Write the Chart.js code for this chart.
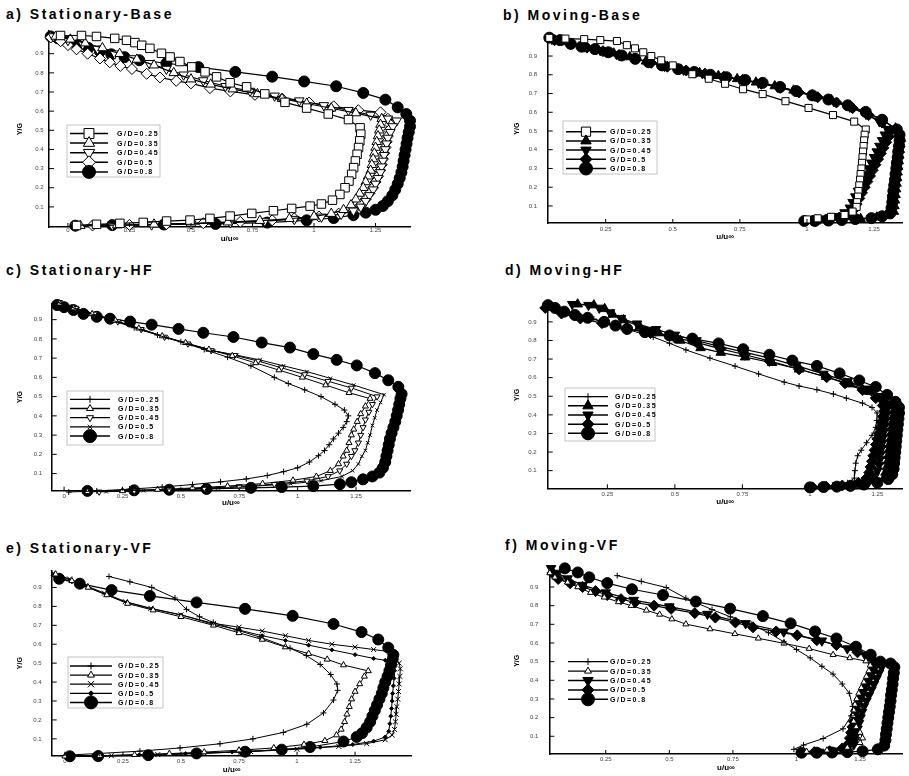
<!DOCTYPE html>
<html>
<head>
<meta charset="utf-8">
<script src="https://cdn.jsdelivr.net/npm/chart.js@4/dist/chart.umd.min.js"></script>
<style>
    html, body { margin: 0; padding: 0; background: #fff; }
    body { width: 909px; height: 776px; position: relative; overflow: hidden; font-family: "Liberation Sans", Arial, sans-serif; }
    canvas { position: absolute; }
    .ttl { position: absolute; font-weight: bold; font-size: 14px; letter-spacing: 2.5px; line-height: 16px; color: #000; white-space: nowrap; }
</style>
</head>
<body>
<div class="ttl" style="left:6px;top:6px">a) Stationary-Base</div>
<div class="ttl" style="left:503px;top:7px">b) Moving-Base</div>
<div class="ttl" style="left:6px;top:262px">c) Stationary-HF</div>
<div class="ttl" style="left:505px;top:262px">d) Moving-HF</div>
<div class="ttl" style="left:6px;top:540px">e) Stationary-VF</div>
<div class="ttl" style="left:505px;top:537px">f) Moving-VF</div>
<canvas id="pa"></canvas>
<canvas id="pb"></canvas>
<canvas id="pc"></canvas>
<canvas id="pd"></canvas>
<canvas id="pe"></canvas>
<canvas id="pf"></canvas>
<script>
// series labels and axis ticks
const gdLabels = ['G/D=0.25', 'G/D=0.35', 'G/D=0.45', 'G/D=0.5', 'G/D=0.8'];
const xTicksVals = [0, 0.25, 0.5, 0.75, 1, 1.25];
const yTicksVals = [0.1, 0.2, 0.3, 0.4, 0.5, 0.6, 0.7, 0.8, 0.9];

// profiles as [u/u, Y/G] pairs
// a) Stationary-Base
const aGD025 = [[-0.03,0.995],[0.055,0.995],[0.116,0.99],[0.19,0.98],[0.238,0.97],[0.272,0.958],[0.3,0.944],[0.333,0.928],[0.38,0.902],[0.415,0.883],[0.455,0.859],[0.503,0.831],[0.557,0.805],[0.604,0.779],[0.659,0.748],[0.726,0.727],[0.8,0.69],[0.882,0.646],[0.97,0.616],[1.058,0.585],[1.14,0.556],[1.187,0.513],[1.19,0.48],[1.186,0.445],[1.181,0.41],[1.175,0.375],[1.168,0.34],[1.161,0.305],[1.153,0.27],[1.142,0.235],[1.126,0.2],[1.105,0.165],[1.075,0.135],[1.03,0.115],[0.984,0.104],[0.909,0.092],[0.835,0.08],[0.747,0.066],[0.659,0.052],[0.577,0.04],[0.496,0.031],[0.401,0.026],[0.306,0.019],[0.211,0.014],[0.116,0.009],[0.035,0.003]];
const aGD035 = [[-0.05,0.99],[0.01,0.975],[0.07,0.955],[0.14,0.93],[0.21,0.9],[0.28,0.87],[0.35,0.84],[0.43,0.8],[0.5,0.767],[0.58,0.74],[0.67,0.715],[0.77,0.69],[0.87,0.665],[0.97,0.64],[1.07,0.615],[1.17,0.59],[1.275,0.56],[1.27,0.53],[1.265,0.5],[1.26,0.47],[1.255,0.44],[1.25,0.41],[1.245,0.38],[1.24,0.35],[1.235,0.32],[1.23,0.29],[1.22,0.26],[1.21,0.23],[1.2,0.2],[1.185,0.17],[1.17,0.14],[1.15,0.11],[1.12,0.085],[1.07,0.065],[1.0,0.05],[0.9,0.038],[0.78,0.028],[0.65,0.02],[0.5,0.014],[0.35,0.009],[0.2,0.005],[0.05,0.002]];
const aGD045 = [[-0.06,0.99],[0.0,0.97],[0.06,0.95],[0.12,0.925],[0.19,0.9],[0.26,0.875],[0.33,0.85],[0.4,0.82],[0.47,0.79],[0.55,0.76],[0.64,0.73],[0.74,0.705],[0.84,0.68],[0.94,0.655],[1.04,0.63],[1.14,0.605],[1.23,0.58],[1.3,0.56],[1.336,0.55],[1.32,0.52],[1.31,0.49],[1.3,0.46],[1.295,0.43],[1.29,0.4],[1.285,0.37],[1.28,0.34],[1.275,0.31],[1.27,0.28],[1.26,0.25],[1.25,0.22],[1.24,0.19],[1.225,0.16],[1.21,0.13],[1.19,0.1],[1.16,0.08],[1.11,0.062],[1.03,0.048],[0.92,0.036],[0.8,0.026],[0.66,0.018],[0.5,0.012],[0.34,0.007],[0.18,0.004],[0.03,0.001]];
const aGD050 = [[-0.07,0.985],[-0.03,0.965],[0.0,0.945],[0.035,0.923],[0.08,0.9],[0.13,0.875],[0.17,0.855],[0.213,0.836],[0.26,0.82],[0.32,0.795],[0.374,0.776],[0.44,0.758],[0.5,0.745],[0.577,0.72],[0.66,0.703],[0.76,0.685],[0.87,0.665],[0.98,0.645],[1.08,0.625],[1.18,0.605],[1.27,0.594],[1.3,0.56],[1.31,0.53],[1.305,0.5],[1.3,0.47],[1.295,0.44],[1.29,0.41],[1.285,0.38],[1.28,0.35],[1.275,0.32],[1.268,0.29],[1.26,0.26],[1.25,0.23],[1.24,0.2],[1.225,0.17],[1.21,0.14],[1.19,0.11],[1.16,0.085],[1.1,0.065],[1.02,0.05],[0.92,0.04],[0.83,0.03],[0.7,0.022],[0.55,0.015],[0.4,0.01],[0.25,0.006],[0.1,0.003]];
const aGD080 = [[-0.07,0.99],[-0.04,0.98],[0.0,0.965],[0.04,0.945],[0.083,0.93],[0.13,0.912],[0.176,0.897],[0.23,0.882],[0.29,0.866],[0.4,0.85],[0.53,0.83],[0.68,0.805],[0.83,0.78],[0.96,0.755],[1.09,0.73],[1.2,0.695],[1.29,0.66],[1.34,0.62],[1.375,0.585],[1.39,0.55],[1.39,0.52],[1.385,0.49],[1.38,0.46],[1.376,0.43],[1.372,0.4],[1.368,0.37],[1.364,0.34],[1.36,0.31],[1.355,0.28],[1.348,0.25],[1.34,0.22],[1.33,0.19],[1.318,0.16],[1.3,0.13],[1.28,0.105],[1.25,0.085],[1.21,0.07],[1.16,0.057],[1.08,0.042],[0.97,0.03],[0.81,0.018],[0.6,0.011],[0.39,0.008],[0.18,0.005],[0.03,0.002]];

// b) Moving-Base
const bGD025 = [[0.04,0.997],[0.1,0.993],[0.17,0.99],[0.23,0.985],[0.292,0.98],[0.329,0.958],[0.359,0.941],[0.39,0.92],[0.42,0.9],[0.457,0.877],[0.5,0.85],[0.573,0.803],[0.634,0.779],[0.695,0.752],[0.762,0.723],[0.835,0.697],[0.92,0.659],[1.006,0.623],[1.097,0.585],[1.176,0.55],[1.219,0.508],[1.215,0.48],[1.213,0.45],[1.211,0.42],[1.209,0.39],[1.207,0.36],[1.205,0.33],[1.203,0.3],[1.2,0.27],[1.198,0.24],[1.195,0.21],[1.192,0.18],[1.19,0.15],[1.187,0.12],[1.185,0.095],[1.17,0.07],[1.14,0.052],[1.09,0.042],[1.04,0.034],[1.0,0.028]];
const bGD035 = [[0.04,0.995],[0.1,0.975],[0.16,0.955],[0.22,0.935],[0.28,0.915],[0.34,0.895],[0.4,0.872],[0.46,0.85],[0.53,0.828],[0.6,0.81],[0.67,0.795],[0.74,0.778],[0.81,0.76],[0.88,0.74],[0.95,0.717],[1.02,0.692],[1.09,0.665],[1.16,0.633],[1.22,0.6],[1.28,0.558],[1.33,0.515],[1.345,0.49],[1.35,0.46],[1.348,0.43],[1.346,0.4],[1.344,0.37],[1.342,0.34],[1.34,0.31],[1.338,0.28],[1.336,0.25],[1.334,0.22],[1.332,0.19],[1.33,0.16],[1.328,0.13],[1.326,0.1],[1.324,0.07],[1.3,0.05],[1.26,0.04],[1.2,0.032]];
const bGD045 = [[0.05,0.99],[0.11,0.97],[0.17,0.95],[0.23,0.93],[0.29,0.91],[0.35,0.89],[0.41,0.868],[0.47,0.846],[0.54,0.826],[0.61,0.808],[0.68,0.792],[0.75,0.775],[0.82,0.756],[0.89,0.735],[0.96,0.712],[1.03,0.686],[1.1,0.658],[1.16,0.628],[1.22,0.59],[1.27,0.55],[1.3,0.51],[1.29,0.48],[1.28,0.45],[1.27,0.42],[1.26,0.39],[1.25,0.36],[1.24,0.33],[1.23,0.3],[1.22,0.27],[1.21,0.24],[1.2,0.21],[1.19,0.18],[1.18,0.15],[1.17,0.12],[1.16,0.09],[1.14,0.065],[1.1,0.045],[1.05,0.032],[1.0,0.025]];
const bGD050 = [[0.06,0.985],[0.12,0.965],[0.18,0.945],[0.24,0.926],[0.3,0.906],[0.36,0.886],[0.42,0.864],[0.48,0.843],[0.55,0.823],[0.62,0.806],[0.69,0.79],[0.76,0.772],[0.83,0.752],[0.9,0.73],[0.97,0.706],[1.04,0.68],[1.11,0.652],[1.17,0.622],[1.23,0.585],[1.28,0.545],[1.31,0.5],[1.305,0.47],[1.295,0.44],[1.285,0.41],[1.275,0.38],[1.265,0.35],[1.255,0.32],[1.245,0.29],[1.235,0.26],[1.225,0.23],[1.215,0.2],[1.205,0.17],[1.195,0.14],[1.185,0.11],[1.175,0.08],[1.16,0.055],[1.12,0.038],[1.07,0.028],[1.02,0.022]];
const bGD080 = [[0.04,0.998],[0.08,0.985],[0.12,0.965],[0.16,0.95],[0.21,0.937],[0.26,0.92],[0.31,0.903],[0.36,0.885],[0.41,0.867],[0.46,0.85],[0.52,0.83],[0.58,0.815],[0.64,0.8],[0.7,0.787],[0.77,0.772],[0.835,0.757],[0.9,0.735],[0.96,0.713],[1.02,0.69],[1.08,0.668],[1.152,0.637],[1.219,0.602],[1.28,0.56],[1.335,0.508],[1.345,0.48],[1.345,0.45],[1.343,0.42],[1.34,0.39],[1.338,0.36],[1.335,0.33],[1.333,0.3],[1.33,0.27],[1.328,0.24],[1.325,0.21],[1.322,0.18],[1.32,0.15],[1.318,0.12],[1.315,0.09],[1.31,0.06],[1.28,0.045],[1.24,0.035],[1.18,0.03],[1.13,0.025],[1.08,0.022],[1.03,0.02],[0.99,0.02]];

// c) Stationary-HF
const cGD025 = [[-0.03,0.99],[0.03,0.965],[0.1,0.935],[0.2,0.9],[0.3,0.858],[0.4,0.82],[0.5,0.785],[0.6,0.745],[0.7,0.705],[0.8,0.66],[0.9,0.6],[0.96,0.568],[1.03,0.535],[1.1,0.5],[1.16,0.46],[1.2,0.43],[1.217,0.4],[1.21,0.37],[1.195,0.34],[1.175,0.31],[1.153,0.28],[1.135,0.25],[1.115,0.22],[1.089,0.193],[1.05,0.16],[1.0,0.13],[0.94,0.11],[0.87,0.09],[0.78,0.072],[0.67,0.057],[0.55,0.043],[0.42,0.03],[0.28,0.019],[0.14,0.01],[0.02,0.004]];
const cGD035 = [[-0.02,0.985],[0.04,0.96],[0.12,0.93],[0.22,0.895],[0.32,0.855],[0.42,0.815],[0.52,0.78],[0.62,0.745],[0.72,0.712],[0.82,0.675],[0.92,0.638],[1.02,0.6],[1.12,0.56],[1.22,0.52],[1.31,0.49],[1.29,0.45],[1.27,0.41],[1.255,0.37],[1.24,0.33],[1.23,0.3],[1.22,0.26],[1.21,0.22],[1.195,0.19],[1.175,0.15],[1.14,0.115],[1.08,0.085],[0.98,0.065],[0.85,0.048],[0.7,0.035],[0.55,0.025],[0.4,0.017],[0.25,0.01],[0.1,0.005]];
const cGD045 = [[-0.02,0.99],[0.05,0.96],[0.13,0.93],[0.23,0.89],[0.33,0.85],[0.43,0.81],[0.53,0.775],[0.63,0.74],[0.73,0.715],[0.83,0.685],[0.93,0.65],[1.03,0.615],[1.13,0.58],[1.23,0.545],[1.34,0.5],[1.32,0.46],[1.305,0.42],[1.29,0.38],[1.28,0.34],[1.27,0.3],[1.26,0.26],[1.245,0.22],[1.23,0.19],[1.21,0.15],[1.18,0.115],[1.13,0.085],[1.04,0.062],[0.9,0.045],[0.75,0.033],[0.6,0.024],[0.45,0.016],[0.3,0.01],[0.15,0.005]];
const cGD050 = [[-0.02,0.98],[0.06,0.955],[0.14,0.925],[0.24,0.885],[0.34,0.845],[0.44,0.805],[0.54,0.77],[0.64,0.738],[0.74,0.715],[0.84,0.69],[0.94,0.66],[1.04,0.63],[1.14,0.595],[1.24,0.56],[1.37,0.51],[1.355,0.47],[1.34,0.43],[1.33,0.39],[1.32,0.35],[1.31,0.3],[1.3,0.26],[1.29,0.22],[1.275,0.19],[1.26,0.15],[1.235,0.115],[1.19,0.085],[1.1,0.063],[0.97,0.047],[0.82,0.035],[0.66,0.025],[0.5,0.017],[0.34,0.011],[0.18,0.006]];
const cGD080 = [[-0.03,0.976],[0.0,0.965],[0.04,0.95],[0.083,0.93],[0.14,0.915],[0.197,0.905],[0.283,0.89],[0.375,0.874],[0.49,0.852],[0.596,0.832],[0.725,0.81],[0.846,0.781],[0.967,0.755],[1.067,0.721],[1.167,0.691],[1.253,0.662],[1.331,0.622],[1.388,0.585],[1.431,0.551],[1.445,0.514],[1.44,0.49],[1.435,0.46],[1.43,0.43],[1.424,0.4],[1.418,0.37],[1.41,0.34],[1.402,0.31],[1.395,0.28],[1.39,0.25],[1.385,0.22],[1.38,0.19],[1.375,0.16],[1.365,0.13],[1.35,0.105],[1.32,0.085],[1.28,0.07],[1.23,0.055],[1.181,0.045],[1.067,0.035],[0.932,0.03],[0.8,0.026],[0.61,0.02],[0.45,0.016],[0.3,0.013],[0.1,0.01]];

// d) Moving-HF
const dGD025 = [[0.01,1.0],[0.056,0.975],[0.12,0.95],[0.2,0.915],[0.3,0.87],[0.42,0.818],[0.48,0.785],[0.541,0.749],[0.63,0.705],[0.723,0.662],[0.81,0.62],[0.905,0.576],[0.96,0.555],[1.026,0.535],[1.087,0.512],[1.135,0.49],[1.195,0.463],[1.23,0.44],[1.249,0.41],[1.248,0.37],[1.244,0.333],[1.23,0.29],[1.21,0.25],[1.19,0.21],[1.177,0.18],[1.17,0.14],[1.167,0.1],[1.165,0.06],[1.14,0.035],[1.1,0.022],[1.05,0.015],[1.0,0.01]];
const dGD035 = [[0.14,0.995],[0.2,0.99],[0.24,0.97],[0.27,0.94],[0.31,0.91],[0.37,0.875],[0.44,0.84],[0.52,0.8],[0.595,0.76],[0.67,0.735],[0.76,0.71],[0.86,0.68],[0.96,0.645],[1.06,0.605],[1.15,0.565],[1.22,0.525],[1.27,0.485],[1.3,0.45],[1.31,0.42],[1.308,0.39],[1.305,0.36],[1.302,0.33],[1.3,0.3],[1.298,0.27],[1.295,0.24],[1.292,0.21],[1.29,0.18],[1.288,0.15],[1.285,0.12],[1.28,0.09],[1.275,0.06],[1.25,0.04],[1.2,0.028]];
const dGD045 = [[0.12,0.995],[0.18,0.99],[0.22,0.975],[0.26,0.95],[0.3,0.92],[0.36,0.89],[0.43,0.86],[0.5,0.83],[0.58,0.8],[0.66,0.77],[0.75,0.74],[0.85,0.705],[0.95,0.665],[1.05,0.62],[1.14,0.58],[1.21,0.54],[1.26,0.5],[1.28,0.46],[1.285,0.43],[1.283,0.4],[1.28,0.37],[1.277,0.34],[1.274,0.31],[1.271,0.28],[1.268,0.25],[1.265,0.22],[1.262,0.19],[1.259,0.16],[1.256,0.13],[1.25,0.1],[1.24,0.07],[1.22,0.045],[1.17,0.03],[1.1,0.02]];
const dGD050 = [[0.02,0.975],[0.08,0.945],[0.15,0.918],[0.23,0.893],[0.32,0.865],[0.41,0.84],[0.5,0.815],[0.58,0.79],[0.67,0.755],[0.759,0.723],[0.85,0.69],[0.96,0.645],[1.062,0.602],[1.13,0.57],[1.195,0.533],[1.244,0.49],[1.27,0.45],[1.275,0.42],[1.27,0.39],[1.265,0.36],[1.26,0.33],[1.255,0.3],[1.25,0.27],[1.245,0.24],[1.24,0.21],[1.235,0.18],[1.23,0.15],[1.225,0.12],[1.22,0.09],[1.21,0.06],[1.18,0.035],[1.12,0.02],[1.06,0.014],[1.01,0.01]];
const dGD080 = [[0.03,0.99],[0.056,0.975],[0.09,0.955],[0.13,0.937],[0.177,0.922],[0.238,0.9],[0.28,0.88],[0.323,0.862],[0.389,0.845],[0.48,0.827],[0.565,0.81],[0.662,0.784],[0.753,0.753],[0.85,0.723],[0.935,0.692],[1.026,0.663],[1.11,0.623],[1.183,0.585],[1.244,0.55],[1.286,0.507],[1.317,0.47],[1.33,0.44],[1.33,0.41],[1.328,0.38],[1.326,0.35],[1.324,0.32],[1.322,0.29],[1.32,0.26],[1.318,0.23],[1.316,0.2],[1.314,0.17],[1.312,0.14],[1.31,0.11],[1.305,0.08],[1.29,0.055],[1.25,0.035],[1.2,0.025],[1.15,0.018],[1.1,0.014],[1.05,0.012],[1.0,0.01]];

// e) Stationary-VF
const eGD025 = [[0.19,0.958],[0.28,0.93],[0.374,0.9],[0.474,0.844],[0.524,0.784],[0.58,0.745],[0.639,0.715],[0.74,0.675],[0.84,0.638],[0.97,0.579],[1.04,0.54],[1.1,0.493],[1.145,0.44],[1.172,0.39],[1.175,0.356],[1.157,0.305],[1.114,0.237],[1.042,0.177],[0.941,0.134],[0.81,0.1],[0.668,0.074],[0.496,0.052],[0.323,0.035],[0.15,0.023],[0.007,0.014]];
const eGD035 = [[-0.04,0.97],[0.03,0.935],[0.1,0.9],[0.18,0.86],[0.27,0.815],[0.38,0.78],[0.5,0.745],[0.64,0.7],[0.75,0.66],[0.85,0.625],[0.95,0.585],[1.05,0.55],[1.13,0.52],[1.2,0.49],[1.307,0.459],[1.29,0.43],[1.27,0.39],[1.25,0.35],[1.235,0.31],[1.225,0.27],[1.215,0.23],[1.205,0.19],[1.19,0.15],[1.17,0.12],[1.12,0.09],[1.03,0.07],[0.9,0.052],[0.75,0.04],[0.6,0.03],[0.45,0.022],[0.3,0.016],[0.15,0.011],[0.0,0.008]];
const eGD045 = [[-0.05,0.975],[0.02,0.945],[0.09,0.91],[0.17,0.87],[0.26,0.825],[0.37,0.79],[0.5,0.755],[0.64,0.71],[0.75,0.69],[0.85,0.67],[0.95,0.645],[1.05,0.62],[1.15,0.6],[1.25,0.585],[1.33,0.572],[1.4,0.56],[1.44,0.5],[1.445,0.47],[1.443,0.43],[1.44,0.39],[1.437,0.35],[1.434,0.31],[1.43,0.27],[1.427,0.23],[1.424,0.19],[1.42,0.15],[1.41,0.12],[1.38,0.095],[1.3,0.075],[1.18,0.06],[1.0,0.045],[0.8,0.033],[0.6,0.024],[0.4,0.017],[0.2,0.011],[0.02,0.008]];
const eGD050 = [[-0.05,0.965],[0.03,0.93],[0.1,0.9],[0.18,0.86],[0.27,0.82],[0.38,0.785],[0.5,0.755],[0.64,0.705],[0.75,0.675],[0.85,0.645],[0.95,0.62],[1.05,0.595],[1.15,0.57],[1.25,0.545],[1.33,0.525],[1.38,0.515],[1.41,0.49],[1.42,0.46],[1.418,0.42],[1.415,0.38],[1.412,0.34],[1.41,0.3],[1.407,0.26],[1.404,0.22],[1.4,0.18],[1.395,0.14],[1.38,0.11],[1.33,0.088],[1.24,0.07],[1.1,0.055],[0.92,0.042],[0.72,0.031],[0.52,0.022],[0.32,0.015],[0.12,0.01]];
const eGD080 = [[-0.025,0.946],[0.064,0.92],[0.201,0.886],[0.366,0.855],[0.567,0.821],[0.776,0.787],[0.981,0.75],[1.157,0.707],[1.278,0.664],[1.35,0.625],[1.393,0.582],[1.415,0.544],[1.412,0.52],[1.405,0.49],[1.398,0.46],[1.39,0.43],[1.38,0.4],[1.372,0.37],[1.365,0.34],[1.355,0.31],[1.345,0.28],[1.335,0.25],[1.325,0.22],[1.315,0.19],[1.3,0.16],[1.28,0.13],[1.257,0.11],[1.2,0.086],[1.056,0.057],[0.934,0.043],[0.776,0.032],[0.567,0.023],[0.359,0.014],[0.143,0.009],[0.021,0.008]];

// f) Moving-VF
const fGD025 = [[0.295,0.961],[0.39,0.93],[0.488,0.897],[0.565,0.84],[0.668,0.779],[0.74,0.74],[0.822,0.701],[0.89,0.655],[0.951,0.606],[1.0,0.565],[1.054,0.52],[1.1,0.475],[1.144,0.433],[1.18,0.38],[1.208,0.33],[1.221,0.26],[1.215,0.209],[1.183,0.14],[1.105,0.088],[1.028,0.053],[0.99,0.03]];
const fGD035 = [[0.03,0.975],[0.05,0.952],[0.1,0.925],[0.14,0.9],[0.19,0.87],[0.244,0.845],[0.3,0.82],[0.35,0.8],[0.41,0.775],[0.462,0.753],[0.51,0.728],[0.565,0.701],[0.66,0.675],[0.758,0.649],[0.85,0.625],[0.951,0.598],[1.05,0.57],[1.144,0.537],[1.21,0.52],[1.273,0.503],[1.29,0.48],[1.285,0.45],[1.275,0.42],[1.265,0.39],[1.255,0.36],[1.245,0.33],[1.237,0.3],[1.23,0.27],[1.225,0.24],[1.222,0.21],[1.225,0.18],[1.235,0.15],[1.25,0.12],[1.26,0.09],[1.25,0.065],[1.2,0.04],[1.12,0.025],[1.04,0.018]];
const fGD045 = [[0.035,1.0],[0.06,0.975],[0.1,0.945],[0.16,0.91],[0.25,0.87],[0.36,0.83],[0.5,0.795],[0.65,0.755],[0.8,0.705],[0.95,0.66],[1.1,0.612],[1.2,0.57],[1.27,0.535],[1.325,0.5],[1.335,0.47],[1.325,0.44],[1.315,0.41],[1.305,0.38],[1.295,0.35],[1.285,0.32],[1.275,0.29],[1.265,0.26],[1.258,0.23],[1.252,0.2],[1.246,0.17],[1.24,0.14],[1.235,0.11],[1.23,0.08],[1.225,0.055],[1.2,0.035],[1.15,0.022],[1.09,0.016]];
const fGD050 = [[0.04,0.975],[0.063,0.943],[0.11,0.92],[0.159,0.9],[0.21,0.878],[0.256,0.857],[0.31,0.835],[0.365,0.817],[0.44,0.8],[0.507,0.783],[0.6,0.76],[0.681,0.736],[0.76,0.71],[0.829,0.684],[0.92,0.662],[1.003,0.641],[1.08,0.615],[1.157,0.589],[1.24,0.55],[1.3,0.51],[1.31,0.48],[1.3,0.45],[1.29,0.42],[1.28,0.39],[1.27,0.36],[1.26,0.33],[1.25,0.3],[1.24,0.27],[1.235,0.24],[1.23,0.21],[1.225,0.18],[1.22,0.15],[1.215,0.12],[1.21,0.09],[1.205,0.06],[1.18,0.035],[1.13,0.02],[1.07,0.015]];
const fGD080 = [[0.089,1.0],[0.14,0.978],[0.185,0.952],[0.256,0.921],[0.353,0.888],[0.475,0.857],[0.604,0.822],[0.739,0.784],[0.868,0.744],[0.977,0.705],[1.073,0.662],[1.157,0.624],[1.234,0.58],[1.292,0.537],[1.33,0.5],[1.37,0.49],[1.385,0.47],[1.383,0.44],[1.38,0.41],[1.378,0.38],[1.375,0.35],[1.372,0.32],[1.37,0.29],[1.367,0.26],[1.364,0.23],[1.361,0.2],[1.358,0.17],[1.355,0.14],[1.352,0.11],[1.35,0.08],[1.345,0.05],[1.32,0.03],[1.26,0.02],[1.2,0.015],[1.14,0.013],[1.08,0.012],[1.02,0.012]];

// marker styles: ps = point style, r = radius, lr = legend radius
const M = {
    sqOpen:   { ps: 'rect', r: 6, lr: 7, fill: false },
    sqSmall:  { ps: 'rect', r: 5, lr: 6.5, fill: false },
    triOpen:  { ps: 'triangle', r: 5.5, lr: 6.5, fill: false },
    invOpen:  { ps: 'triangle', rot: 180, r: 5.5, lr: 6.5, fill: false },
    diaOpen:  { ps: 'rectRot', r: 5.5, lr: 6.5, fill: false },
    triFill:  { ps: 'triangle', r: 5.5, lr: 6, fill: true },
    invFill:  { ps: 'triangle', rot: 180, r: 5.5, lr: 6, fill: true },
    diaFill:  { ps: 'rectRot', r: 5.5, lr: 6, fill: true },
    circFill: { ps: 'circle', r: 5.5, lr: 6.5, fill: true },
    plus:     { ps: 'cross', r: 3, lr: 3.5, fill: false, lw: 1 },
    triThin:  { ps: 'triangle', r: 3.5, lr: 4, fill: false, lw: 1 },
    invThin:  { ps: 'triangle', rot: 180, r: 3.5, lr: 4, fill: false, lw: 1 },
    xThin:    { ps: 'crossRot', r: 3.5, lr: 4.5, fill: false, lw: 1 },
    xSmall:   { ps: 'crossRot', r: 2.5, lr: 3, fill: false, lw: 1 },
    dotSmall: { ps: 'rectRot', r: 2, lr: 2.5, fill: true, lw: 1 }
};

// panel geometry in page pixels
const panels = [
    { id: 'pa', L: 0, T: 22, W: 455, area: [49, 30, 410, 227], xr: [-0.077, 1.39], yr: [-0.005, 1.018],
      xTitleY: 239, yTitleX: 20, yLabR: 43.5, xPad: 0,
      series: [aGD025, aGD035, aGD045, aGD050, aGD080],
      marks: [M.sqOpen, M.triOpen, M.invOpen, M.diaOpen, M.circFill],
      legend: { x: 70, y: 133.5, gap: 9.6, len: 38, tx: 117, box: [67, 125, 160, 177] } },
    { id: 'pb', L: 455, T: 20, W: 454, area: [547.7, 28.3, 909, 223.3], xr: [0.034, 1.356], yr: [0.009, 1.016],
      xTitleY: 237.3, yTitleX: 516.7, yLabR: 537, xPad: 2.5,
      series: [bGD025, bGD035, bGD045, bGD050, bGD080],
      marks: [M.sqSmall, M.triFill, M.invFill, M.diaFill, M.circFill],
      legend: { x: 566, y: 131.7, gap: 9.2, len: 40, tx: 610, box: [563, 121, 657, 174] } },
    { id: 'pc', L: 0, T: 290, W: 455, area: [51.7, 300, 410, 490.7], xr: [-0.053, 1.481], yr: [0.011, 0.985],
      xTitleY: 503, yTitleX: 20, yLabR: 42, xPad: 2.5,
      series: [cGD025, cGD035, cGD045, cGD050, cGD080],
      marks: [M.plus, M.triThin, M.invThin, M.xSmall, M.circFill],
      legend: { x: 70, y: 399.3, gap: 9.2, len: 40, tx: 118, box: [67, 391, 163, 445] } },
    { id: 'pd', L: 455, T: 287, W: 454, area: [547.7, 295, 909, 488.3], xr: [0.029, 1.343], yr: [0.005, 1.009],
      xTitleY: 502, yTitleX: 516.7, yLabR: 536.7, xPad: 2.5,
      series: [dGD025, dGD035, dGD045, dGD050, dGD080],
      marks: [M.plus, M.triFill, M.invFill, M.diaFill, M.circFill],
      legend: { x: 568, y: 396.7, gap: 9.15, len: 40, tx: 615, box: [565, 388, 655, 441] } },
    { id: 'pe', L: 0, T: 557, W: 455, area: [51.7, 565, 411.7, 755.7], xr: [-0.057, 1.494], yr: [0.011, 0.989],
      xTitleY: 770, yTitleX: 20, yLabR: 41.7, xPad: 2.5,
      series: [eGD025, eGD035, eGD045, eGD050, eGD080],
      marks: [M.plus, M.triThin, M.xThin, M.dotSmall, M.circFill],
      legend: { x: 70, y: 666, gap: 9.1, len: 42, tx: 118, box: [68, 657, 163, 708] } },
    { id: 'pf', L: 455, T: 553, W: 454, area: [549.3, 561.7, 909, 754.3], xr: [0.028, 1.417], yr: [0.005, 1.004],
      xTitleY: 768.3, yTitleX: 516.7, yLabR: 538.3, xPad: 2.2,
      series: [fGD025, fGD035, fGD045, fGD050, fGD080],
      marks: [M.plus, M.triThin, M.invFill, M.diaFill, M.circFill],
      legend: { x: 568, y: 661.7, gap: 9.4, len: 40, tx: 610, box: null } }
];

// inward tick marks + in-plot legend
const decor = {
    id: 'decor',
    afterDatasetsDraw(chart, args, opts) {
        const ctx = chart.ctx;
        const xs = chart.scales.x, ys = chart.scales.y;
        const area = chart.chartArea;
        ctx.save();
        ctx.strokeStyle = '#000';
        ctx.lineWidth = 1;
        xs.ticks.forEach(t => {
            const px = xs.getPixelForValue(t.value);
            ctx.beginPath(); ctx.moveTo(px, area.bottom); ctx.lineTo(px, area.bottom - 4); ctx.stroke();
        });
        ys.ticks.forEach(t => {
            const py = ys.getPixelForValue(t.value);
            ctx.beginPath(); ctx.moveTo(area.left, py); ctx.lineTo(area.left + 5, py); ctx.stroke();
        });

        const lg = opts.legend;
        const ox = opts.L, oy = opts.T;
        if (lg.box) {
            const [bx0, by0, bx1, by1] = lg.box;
            ctx.strokeStyle = '#aaa';
            ctx.lineWidth = 0.7;
            ctx.strokeRect(bx0 - ox, by0 - oy, bx1 - bx0, by1 - by0);
        }
        chart.data.datasets.forEach((d, i) => {
            const y = lg.y - oy + i * lg.gap;
            const x0 = lg.x - ox;
            ctx.strokeStyle = '#000';
            ctx.lineWidth = d.borderWidth + 0.3;
            ctx.beginPath(); ctx.moveTo(x0, y); ctx.lineTo(x0 + lg.len, y); ctx.stroke();
            ctx.fillStyle = d.pointBackgroundColor;
            ctx.lineWidth = d.pointBorderWidth;
            if (Chart.helpers && Chart.helpers.drawPoint) {
                Chart.helpers.drawPoint(ctx, {
                    pointStyle: d.pointStyle, rotation: d.pointRotation,
                    radius: d.legendRadius, borderWidth: d.pointBorderWidth
                }, x0 + lg.len / 2, y);
            }
            ctx.fillStyle = '#000';
            ctx.font = 'bold 7px "Liberation Sans", Arial, sans-serif';
            ctx.letterSpacing = '1.5px';
            ctx.textBaseline = 'middle';
            ctx.textAlign = 'left';
            ctx.fillText(d.label, lg.tx - ox, y + 0.5);
        });
        ctx.restore();
    }
};

function makeDataset(label, pts, mk) {
    return {
        label: label,
        data: pts.map(p => ({ x: p[0], y: p[1] })),
        showLine: true,
        borderColor: '#000',
        borderWidth: mk.lw || 1.2,
        pointStyle: mk.ps,
        pointRotation: mk.rot || 0,
        pointRadius: mk.r,
        pointBorderColor: '#000',
        pointBorderWidth: 1,
        pointBackgroundColor: mk.fill ? '#000' : '#fff',
        legendRadius: mk.lr,
        tension: 0,
        clip: false
    };
}

function makeChart(p) {
    const cv = document.getElementById(p.id);
    const [al, at, ar, ab] = p.area;
    const H = Math.round(p.xTitleY + 7 - p.T);
    const xh = p.xTitleY + 7 - ab;
    cv.width = p.W;
    cv.height = H;
    cv.style.left = p.L + 'px';
    cv.style.top = p.T + 'px';
    cv.style.width = p.W + 'px';
    cv.style.height = H + 'px';

    const tickFont = { size: 6, family: '"Liberation Sans", Arial, sans-serif' };
    return new Chart(cv, {
        type: 'scatter',
        data: { datasets: p.series.map((s, i) => makeDataset(gdLabels[i], s, p.marks[i])) },
        options: {
            responsive: false,
            animation: false,
            events: [],
            layout: { padding: { left: 0, top: at - p.T, right: p.L + p.W - ar, bottom: 0 } },
            plugins: {
                legend: { display: false },
                tooltip: { enabled: false },
                decor: { legend: p.legend, L: p.L, T: p.T }
            },
            scales: {
                x: {
                    type: 'linear', min: p.xr[0], max: p.xr[1],
                    afterFit: s => { s.height = xh; },
                    afterBuildTicks: s => { s.ticks = xTicksVals.filter(v => v >= p.xr[0] && v <= p.xr[1]).map(v => ({ value: v })); },
                    grid: { display: false, drawTicks: false },
                    border: { display: true, color: '#000', width: 1.5 },
                    ticks: { font: tickFont, color: '#444', padding: p.xPad, maxRotation: 0, autoSkip: false, callback: v => String(v) },
                    title: { display: true, text: 'u/u∞', color: '#000',
                             font: { size: 8, weight: 'bold', family: '"Liberation Sans", Arial, sans-serif' },
                             padding: { top: 0, bottom: 2.2 } }
                },
                y: {
                    type: 'linear', min: p.yr[0], max: p.yr[1],
                    afterFit: s => { s.width = al - p.L; },
                    afterBuildTicks: s => { s.ticks = yTicksVals.map(v => ({ value: v })); },
                    grid: { display: false, drawTicks: false },
                    border: { display: true, color: '#000', width: 1.5 },
                    ticks: { font: tickFont, color: '#444', padding: al - p.yLabR, autoSkip: false, callback: v => String(v) },
                    title: { display: true, text: 'Y/G', color: '#000',
                             font: { size: 7, weight: 'bold', family: '"Liberation Sans", Arial, sans-serif' },
                             padding: { top: p.yTitleX - p.L - 4.2, bottom: 0 } }
                }
            }
        },
        plugins: [decor]
    });
}

panels.forEach(makeChart);
</script>
</body>
</html>
